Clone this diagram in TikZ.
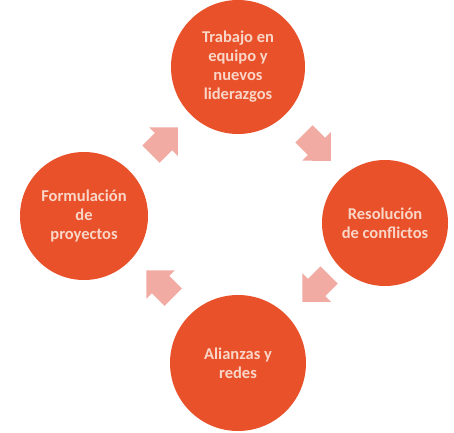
\documentclass[tikz,border=0pt]{standalone}
\usepackage{fontspec}
\setmainfont{Carlito}
\usetikzlibrary{shapes.arrows}
\definecolor{circfill}{HTML}{E9512A}
\definecolor{arrfill}{HTML}{F2ABA3}
\definecolor{txtcol}{HTML}{F9D6C8}
\tikzset{
  stage/.style={circle, fill=circfill, draw=none, text=txtcol, align=center,
    font=\fontsize{16.5}{19}\selectfont\bfseries, inner sep=0pt},
  flowarrow/.style={single arrow, fill=arrfill, draw=none, inner xsep=0pt,
    inner ysep=12pt, minimum height=38pt, single arrow head extend=8pt,
    single arrow tip angle=90, single arrow head indent=0pt}
}
\begin{document}
\begin{tikzpicture}[x=1pt,y=1pt]
\useasboundingbox (0,0) rectangle (454,432);
\fill[white] (0,0) rectangle (454,432);
\node[stage, minimum size=134pt] (top) at (238,365) {Trabajo en\\equipo y\\nuevos\\liderazgos};
\node[stage, minimum size=126pt] (right) at (385,209) {Resolución\\de conflictos};
\node[stage, minimum size=136pt] (bottom) at (238,69) {Alianzas y\\redes};
\node[stage, minimum size=128pt] (left) at (84,216) {Formulación\\de\\proyectos};
\node[flowarrow, rotate=45] (a1) at (160,287) {};
\node[flowarrow, rotate=-45] (a2) at (313,289) {};
\node[flowarrow, rotate=-135] (a3) at (320,148) {};
\node[flowarrow, rotate=135] (a4) at (164,144) {};
\end{tikzpicture}
\end{document}
